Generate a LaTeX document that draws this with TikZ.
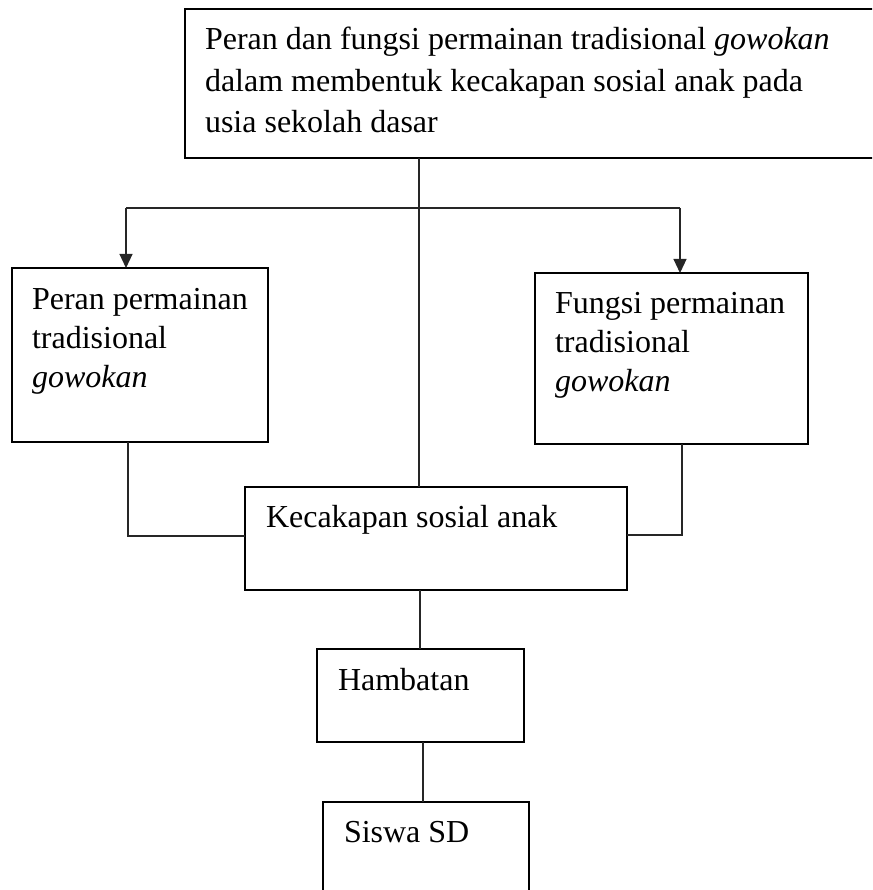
\documentclass[tikz,border=0pt]{standalone}
\usepackage{fontspec}
\setmainfont{Liberation Serif}
\usetikzlibrary{arrows.meta}
\tikzset{
  box/.style={draw=black, line width=1.6pt, rectangle, inner sep=0pt, outer sep=0pt},
  conn/.style={draw=black!85, line width=1.1pt},
  arr/.style={conn, -{Triangle[length=14pt,width=13pt]}},
  txt/.style={inner sep=0pt, outer sep=0pt, anchor=base west, align=left, font=\fontsize{32}{39}\selectfont},
  txttop/.style={txt, font=\fontsize{32}{41.5}\selectfont}
}
\begin{document}
\begin{tikzpicture}[x=1pt,y=-1pt]
\useasboundingbox (0,0) rectangle (872,890);
\clip (0,0) rectangle (872,890);
% boxes
\node[box, minimum width=695pt, minimum height=149pt] (top) at (532.5,83.5) {};
\node[box, minimum width=256pt, minimum height=174pt] (L) at (140,355) {};
\node[box, minimum width=273pt, minimum height=171pt] (R) at (671.5,358.5) {};
\node[box, minimum width=382pt, minimum height=103pt] (K) at (436,538.5) {};
\node[box, minimum width=207pt, minimum height=93pt] (H) at (420.5,695.5) {};
\node[box, minimum width=206pt, minimum height=98pt] (S) at (426,851) {};
% texts (anchor at baseline of the last line)
\node[txttop] (ttop) at (205,133) {Peran dan fungsi permainan tradisional \textit{gowokan}\\dalam membentuk kecakapan sosial anak pada\\usia sekolah dasar};
\node[txt] (tL) at (32,387) {Peran permainan\\tradisional\\\textit{gowokan}};
\node[txt] (tR) at (555,391) {Fungsi permainan\\tradisional\\\textit{gowokan}};
\node[txt] (tK) at (266,527) {Kecakapan sosial anak};
\node[txt] (tH) at (338,690) {Hambatan};
\node[txt] (tS) at (344,842) {Siswa SD};
% helper coordinates
\coordinate (cx) at (419,0);
\coordinate (hl) at (0,208);
\coordinate (ax1) at (126,0);
\coordinate (ax2) at (680,0);
\coordinate (lx) at (128,0);
\coordinate (rx) at (682,0);
\coordinate (yl) at (0,536);
\coordinate (yr) at (0,535);
\coordinate (hx) at (420,0);
\coordinate (sx) at (423,0);
% connectors
\draw[conn] (cx |- top.south) -- (cx |- K.north);
\draw[conn] (hl -| ax1) -- (hl -| ax2);
\draw[arr] (hl -| ax1) -- (ax1 |- L.north);
\draw[arr] (hl -| ax2) -- (ax2 |- R.north);
\draw[conn] (lx |- L.south) |- (K.west |- yl);
\draw[conn] (rx |- R.south) |- (K.east |- yr);
\draw[conn] (hx |- K.south) -- (hx |- H.north);
\draw[conn] (sx |- H.south) -- (sx |- S.north);
\end{tikzpicture}
\end{document}
